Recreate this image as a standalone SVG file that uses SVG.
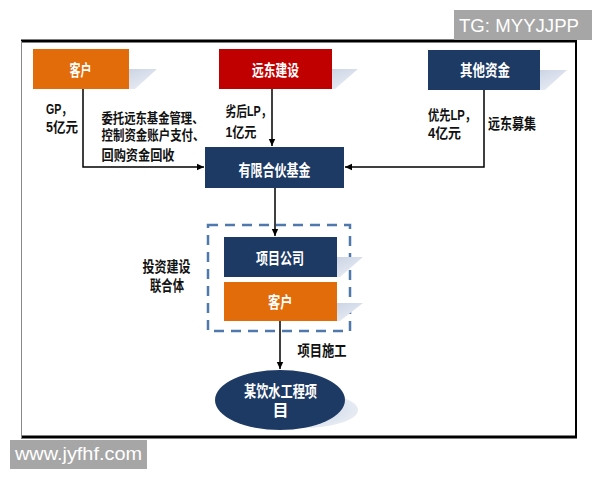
<svg xmlns="http://www.w3.org/2000/svg" width="600" height="480" viewBox="0 0 600 480">
<defs>
<style>
.t{font-family:"Liberation Sans","Noto Sans CJK SC",sans-serif;font-weight:bold;font-size:15px;fill:#111}
.s{font-size:14px}
.m{font-size:13.5px}
.w{fill:#fff;font-size:16px}
.wm{font-family:"Liberation Sans",Arial,sans-serif;font-size:18px;fill:#fff}
.c{fill:none;stroke:#000;stroke-width:1.5}
.navy{fill:#1d3a64}
.orange{fill:#e36c0a}
.red{fill:#c00000}
.sh{fill:url(#shg)}
</style>
<linearGradient id="shg" x1="0" y1="0" x2="1" y2="1">
<stop offset="0" stop-color="#c3cde0"/>
<stop offset="1" stop-color="#eef1f7"/>
</linearGradient>
<radialGradient id="esh" cx="0.5" cy="0.5" r="0.5">
<stop offset="0" stop-color="#c6d0e0"/>
<stop offset="1" stop-color="#e6ebf3"/>
</radialGradient>
<marker id="ah" markerWidth="8" markerHeight="8" refX="7" refY="4" orient="auto" markerUnits="userSpaceOnUse">
<path d="M0,0.8 L7,4 L0,7.2 Z" fill="#000"/>
</marker>
</defs>
<rect width="600" height="480" fill="#fff"/>
<g id="frame">
<line x1="21" y1="41" x2="577" y2="41" stroke="#000" stroke-width="3"/>
<line x1="576" y1="41" x2="576" y2="438" stroke="#000" stroke-width="2"/>
<line x1="21" y1="437" x2="577" y2="437" stroke="#000" stroke-width="3"/>
<line x1="21.5" y1="41" x2="21.5" y2="438" stroke="#888" stroke-width="1"/>
</g>
<g id="connectors">
<path class="c" d="M83,89 V167 H204" marker-end="url(#ah)"/>
<path class="c" d="M272,89 V146" marker-end="url(#ah)"/>
<path class="c" d="M484,90 V167 H345" marker-end="url(#ah)"/>
<path class="c" d="M275,188 V236" marker-end="url(#ah)"/>
<path class="c" d="M280,321 V369" marker-end="url(#ah)"/>
</g>
<g id="consortium">
<rect x="208" y="225" width="142" height="106" fill="none" stroke="#4f79ad" stroke-width="2.5" stroke-dasharray="10,7"/>
<text class="t" x="142.5" y="272" textLength="48" lengthAdjust="spacingAndGlyphs">投资建设</text>
<text class="t" x="150" y="290.5" textLength="34" lengthAdjust="spacingAndGlyphs">联合体</text>
</g>
<g id="kehu-top">
<polygon class="sh" points="110,69 157,69 135,89 110,89"/>
<rect class="orange" x="33" y="49" width="96" height="40"/>
<text class="t w" x="69.5" y="75.5" textLength="22" lengthAdjust="spacingAndGlyphs">客户</text>
</g>
<g id="yuandong">
<polygon class="sh" points="310,69 358,69 335,89 310,89"/>
<rect class="red" x="219" y="49" width="113" height="40"/>
<text class="t w" x="252" y="75.5" textLength="47" lengthAdjust="spacingAndGlyphs">远东建设</text>
</g>
<g id="qita">
<polygon class="sh" points="520,70 567,70 545,90 520,90"/>
<rect class="navy" x="428" y="50" width="112" height="40"/>
<text class="t w" x="460" y="75.5" textLength="50" lengthAdjust="spacingAndGlyphs">其他资金</text>
</g>
<g id="labels-top">
<text class="t s" x="46" y="114" textLength="26" lengthAdjust="spacingAndGlyphs">GP，</text>
<text class="t s" x="46" y="132" textLength="32" lengthAdjust="spacingAndGlyphs">5亿元</text>
<text class="t m" x="101.5" y="122.5" textLength="102" lengthAdjust="spacingAndGlyphs">委托远东基金管理、</text>
<text class="t m" x="101.5" y="140" textLength="103" lengthAdjust="spacingAndGlyphs">控制资金账户支付、</text>
<text class="t m" x="101.5" y="159.5" textLength="73" lengthAdjust="spacingAndGlyphs">回购资金回收</text>
<text class="t s" x="225.5" y="116" textLength="46" lengthAdjust="spacingAndGlyphs">劣后LP，</text>
<text class="t s" x="225.5" y="136.5" textLength="31" lengthAdjust="spacingAndGlyphs">1亿元</text>
<text class="t s" x="428" y="119.5" textLength="48" lengthAdjust="spacingAndGlyphs">优先LP，</text>
<text class="t s" x="428" y="137.5" textLength="33" lengthAdjust="spacingAndGlyphs">4亿元</text>
<text class="t" x="488" y="129" textLength="48" lengthAdjust="spacingAndGlyphs">远东募集</text>
</g>
<g id="fund">
<rect class="navy" x="205" y="147" width="139" height="41"/>
<text class="t w" x="238.5" y="175.5" textLength="72" lengthAdjust="spacingAndGlyphs">有限合伙基金</text>
</g>
<g id="xiangmu">
<polygon class="sh" points="320,257 363,257 340,277 320,277"/>
<rect class="navy" x="224" y="237" width="113" height="40"/>
<text class="t w" x="256" y="264" textLength="48" lengthAdjust="spacingAndGlyphs">项目公司</text>
</g>
<g id="kehu-bottom">
<polygon class="sh" points="320,303 363,303 340,321 320,321"/>
<rect class="orange" x="224" y="282" width="113" height="39"/>
<text class="t w" x="268" y="308" textLength="24.5" lengthAdjust="spacingAndGlyphs">客户</text>
</g>
<text class="t" x="297.5" y="355.5" textLength="49" lengthAdjust="spacingAndGlyphs">项目施工</text>
<g id="project">
<ellipse cx="302" cy="410" rx="56" ry="18" fill="url(#esh)"/>
<ellipse class="navy" cx="280" cy="400" rx="65" ry="30"/>
<text class="t w" x="244" y="397" textLength="73" lengthAdjust="spacingAndGlyphs">某饮水工程项</text>
<text class="t w" x="280.5" y="416" text-anchor="middle">目</text>
</g>
<g id="watermarks">
<rect x="454" y="10" width="138" height="30" fill="#a6a6a6"/>
<text class="wm" x="459" y="31.5" textLength="120" lengthAdjust="spacingAndGlyphs">TG: MYYJJPP</text>
<rect x="10" y="440" width="137" height="29" fill="#a6a6a6"/>
<text class="wm" x="15" y="460" textLength="127" lengthAdjust="spacingAndGlyphs">www.jyfhf.com</text>
</g>
</svg>
